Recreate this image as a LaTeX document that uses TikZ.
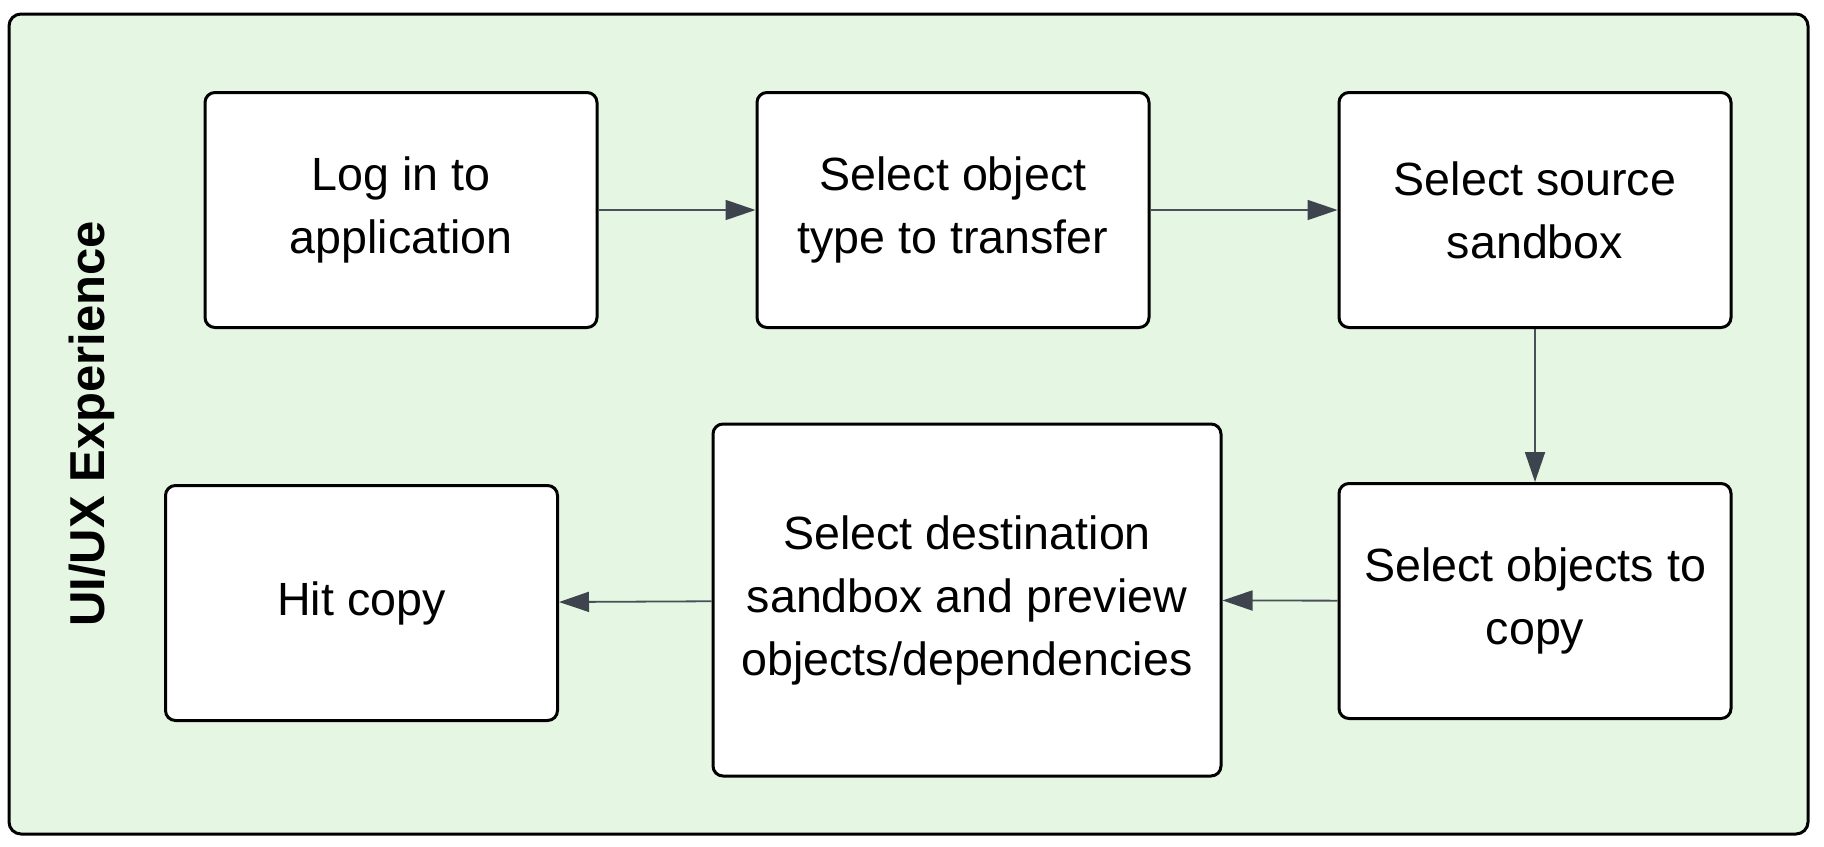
\documentclass[tikz,border=0pt]{standalone}
\usepackage{fontspec}
\setmainfont{Liberation Sans}
\usepackage{xcolor}
\usetikzlibrary{arrows.meta}

\definecolor{lanegreen}{HTML}{E5F6E3}
\definecolor{arrowgrey}{HTML}{4A5058}
\definecolor{tipgrey}{HTML}{3D444D}

\tikzset{
  stepbox/.style={rectangle, draw=black, fill=white, line width=1.5pt, rounded corners=5pt,
    minimum width=196pt, minimum height=117.5pt, align=center,
    font=\fontsize{23.3}{31.5}\selectfont},
  flow/.style={draw=arrowgrey, line width=0.9pt, -{Triangle[length=15pt,width=10pt,fill=tipgrey,color=tipgrey]}}
}

\begin{document}
\begin{tikzpicture}[x=0.5pt,y=-0.5pt]
\useasboundingbox (0,0) rectangle (1824,846);
% lane
\draw [fill=lanegreen, line width=1.5pt, rounded corners=6pt] (9,14) rectangle (1808,834);
\node [rotate=90, font=\fontsize{24.5}{30}\selectfont\bfseries] (lane) at (92,424) {UI/UX Experience};
% steps
\node [stepbox] (login) at (401,210) {Log in to\\application};
\node [stepbox] (objtype) at (953,210) {Select object\\type to transfer};
\node [stepbox] (source) at (1535,210) {Select source\\sandbox};
\node [stepbox] (objects) at (1535,601) {Select objects to\\copy};
\node [stepbox, minimum width=254pt, minimum height=176pt] (dest) at (967,600) {Select destination\\sandbox and preview\\objects/dependencies};
\node [stepbox] (hit) at (361.5,603) {Hit copy};
% arrows
\draw [flow] (login) -- (objtype);
\draw [flow] (objtype) -- (source);
\draw [flow] (source) -- (objects);
\draw [flow] (objects) -- (dest);
\draw [flow] (dest) -- (hit);
\end{tikzpicture}
\end{document}
